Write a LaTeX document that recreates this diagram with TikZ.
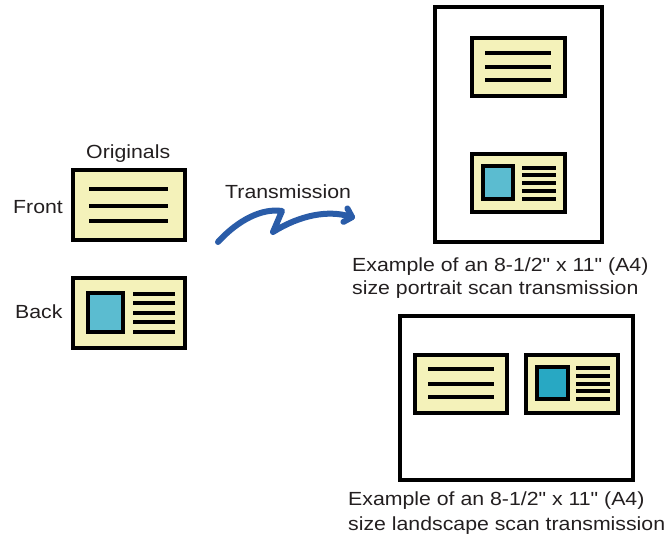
\documentclass[tikz,border=0pt]{standalone}
\usepackage{fontspec}
\newfontfamily\labelfont{Liberation Sans}[FakeStretch=1.12]
\usetikzlibrary{arrows.meta}
\definecolor{cardfill}{HTML}{F4F2BA}
\definecolor{photoA}{HTML}{5BBCD0}
\definecolor{photoB}{HTML}{28A8C3}
\definecolor{arrowblue}{HTML}{2A5CA8}
\definecolor{ink}{HTML}{231F20}
\tikzset{
  card/.style={draw=black, line width=3.2pt, fill=cardfill},
  page/.style={draw=black, line width=3.2pt, fill=white},
  photo/.style={draw=black, line width=3.2pt},
  rule/.style={line width=3.2pt},
  lbl/.style={inner sep=0pt, anchor=base west, text=ink, font=\labelfont\fontsize{19}{22}\selectfont},
}
\begin{document}
\begin{tikzpicture}[x=1pt,y=-1pt]
\useasboundingbox (0,0) rectangle (665,535);

% ---------- originals ----------
\node[lbl] (originals) at (86,158) {Originals};
\node[lbl] (front) at (13,213) {Front};
\node[lbl] (back) at (15,318) {Back};

\draw[card] (73,170) rectangle (185,240);
\foreach \y in {189,206,221} \draw[rule] (89,\y) -- (168,\y);

\draw[card] (73,278) rectangle (185,348);
\draw[photo, fill=photoA] (88,293) rectangle (123,332);
\foreach \y in {294,303,313,322,332} \draw[rule] (133,\y) -- (175,\y);

% ---------- transmission arrow ----------
\node[lbl] (trans) at (225,198) {Transmission};
\coordinate (a0) at (218,242);
\coordinate (a1) at (282,211);
\coordinate (a2) at (273,232);
\coordinate (a3) at (355,218);
\draw[arrowblue, line width=6pt, line cap=round, line join=round,
      -{Straight Barb[round, length=7pt, width=14pt]}]
  (a0) .. controls (238,220) and (262,208) .. (a1)
  -- (a2)
  .. controls (300,215) and (328,210) .. (a3);

% ---------- portrait page ----------
\draw[page] (435,7) rectangle (602,242);
\draw[card] (472,38) rectangle (565,96);
\foreach \y in {53,67,80} \draw[rule] (485,\y) -- (551,\y);
\draw[card] (472,154) rectangle (565,212);
\draw[photo, fill=photoA] (483,166) rectangle (513,199);
\foreach \y in {168,175,183,191,199} \draw[rule] (522,\y) -- (556,\y);

\node[lbl] (pt1) at (352,271) {Example of an 8-1/2" x 11" (A4)};
\node[lbl] (pt2) at (352,294) {size portrait scan transmission};

% ---------- landscape page ----------
\draw[page] (400,316) rectangle (633,480);
\draw[card] (415,355) rectangle (507,413);
\foreach \y in {369,384,397} \draw[rule] (428,\y) -- (494,\y);
\draw[card] (526,355) rectangle (618,413);
\draw[photo, fill=photoB] (537,367) rectangle (568,399);
\foreach \y in {368,376,384,391,399} \draw[rule] (576,\y) -- (610,\y);

\node[lbl] (ls1) at (348,505) {Example of an 8-1/2" x 11" (A4)};
\node[lbl] (ls2) at (348,530) {size landscape scan transmission};
\end{tikzpicture}
\end{document}
